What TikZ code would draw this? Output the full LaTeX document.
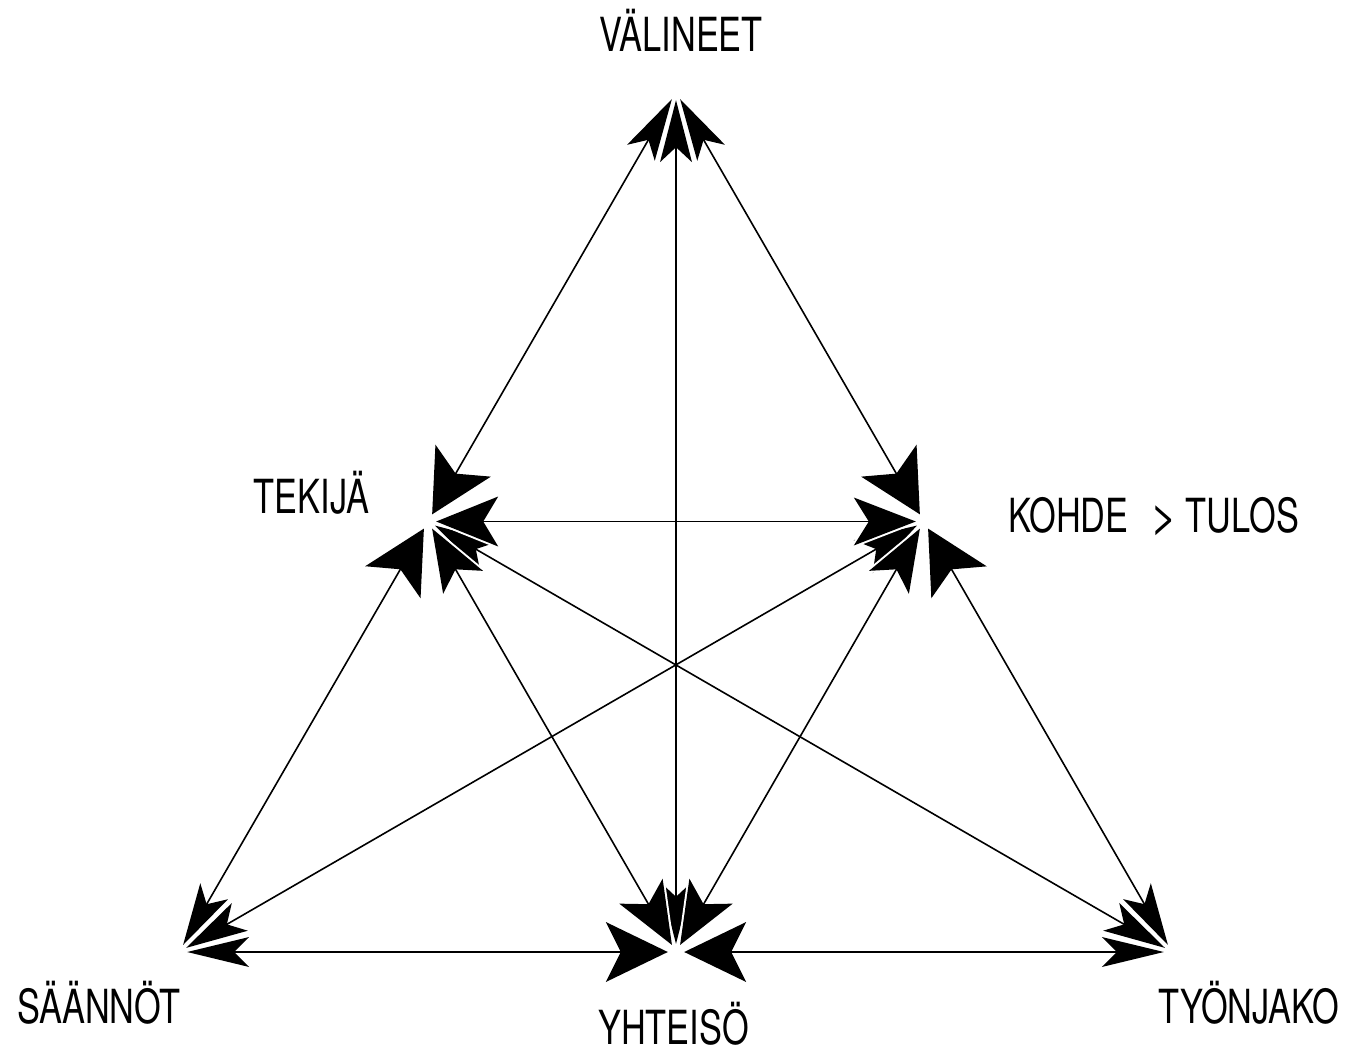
\documentclass[tikz,border=0pt]{standalone}
\usepackage{fontspec}
\setmainfont{TeX Gyre Heros}[FakeStretch=0.73]
\newfontfamily\gtfont{TeX Gyre Heros}
\usetikzlibrary{decorations.markings}
% arrowhead pointing forward (+x), tip at origin; #1 = full width in pt
\newcommand{\tipfwd}[1]{%
  \filldraw[white,line width=4pt,line join=round] (0pt,0pt) -- (-62pt,#1pt/2) -- (-47pt,0pt) -- (-62pt,-#1pt/2) -- cycle;
  \fill[black] (0pt,0pt) -- (-62pt,#1pt/2) -- (-47pt,0pt) -- (-62pt,-#1pt/2) -- cycle;}
\newcommand{\tipbwd}[1]{%
  \filldraw[white,line width=4pt,line join=round] (0pt,0pt) -- (62pt,#1pt/2) -- (47pt,0pt) -- (62pt,-#1pt/2) -- cycle;
  \fill[black] (0pt,0pt) -- (62pt,#1pt/2) -- (47pt,0pt) -- (62pt,-#1pt/2) -- cycle;}
\tikzset{
  vtx/.style={circle,inner sep=0pt,minimum size=16pt},
  tips/.style 2 args={postaction={decorate,decoration={markings,
      mark=at position 0 with {\tipbwd{#1}},
      mark=at position 1 with {\tipfwd{#2}}}}},
  con/.style={line width=1.6pt,black,shorten <=44pt,shorten >=44pt},
  lbl/.style={inner sep=0pt,font=\fontsize{47}{50}\selectfont,anchor=base}
}
\begin{document}
\begin{tikzpicture}[x=1pt,y=-1pt]
\path[use as bounding box,fill=white] (0,0) rectangle (1348,1051);
\node[vtx] (V) at (676,92) {};
\node[vtx] (T) at (428,521.5) {};
\node[vtx] (K) at (924,521.5) {};
\node[vtx] (S) at (179,952) {};
\node[vtx] (Y) at (676,952) {};
\node[vtx] (J) at (1172,952) {};
% arrowheads (width at first end, width at second end)
\path[tips={32}{32}] (V) -- (Y);
\path[tips={32}{64}] (V) -- (T);
\path[tips={32}{64}] (V) -- (K);
\path[tips={34}{32}] (T) -- (J);
\path[tips={38}{32}] (K) -- (S);
\path[tips={50}{48}] (T) -- (K);
\path[tips={46}{50}] (T) -- (Y);
\path[tips={46}{50}] (K) -- (Y);
\path[tips={64}{32}] (T) -- (S);
\path[tips={64}{32}] (K) -- (J);
\path[tips={30}{60}] (S) -- (Y);
\path[tips={60}{30}] (Y) -- (J);
% connector lines
\draw[con] (V) -- (T);
\draw[con] (V) -- (K);
\draw[con] (V) -- (Y);
\draw[con] (T) -- (K);
\draw[con] (T) -- (S);
\draw[con] (T) -- (Y);
\draw[con] (T) -- (J);
\draw[con] (K) -- (S);
\draw[con] (K) -- (Y);
\draw[con] (K) -- (J);
\draw[con] (S) -- (Y);
\draw[con] (Y) -- (J);
% labels
\node[lbl] (lV) at (681,52) {VÄLINEET};
\node[lbl,anchor=base west] (lK) at (1008,532) {KOHDE\hspace{22pt}{\gtfont >}\hspace{8pt}TULOS};
\node[lbl] (lT) at (311.5,513) {TEKIJÄ};
\node[lbl] (lS) at (99,1023) {SÄÄNNÖT};
\node[lbl] (lY) at (673.5,1044) {YHTEISÖ};
\node[lbl] (lJ) at (1249,1023) {TYÖNJAKO};
\end{tikzpicture}
\end{document}
